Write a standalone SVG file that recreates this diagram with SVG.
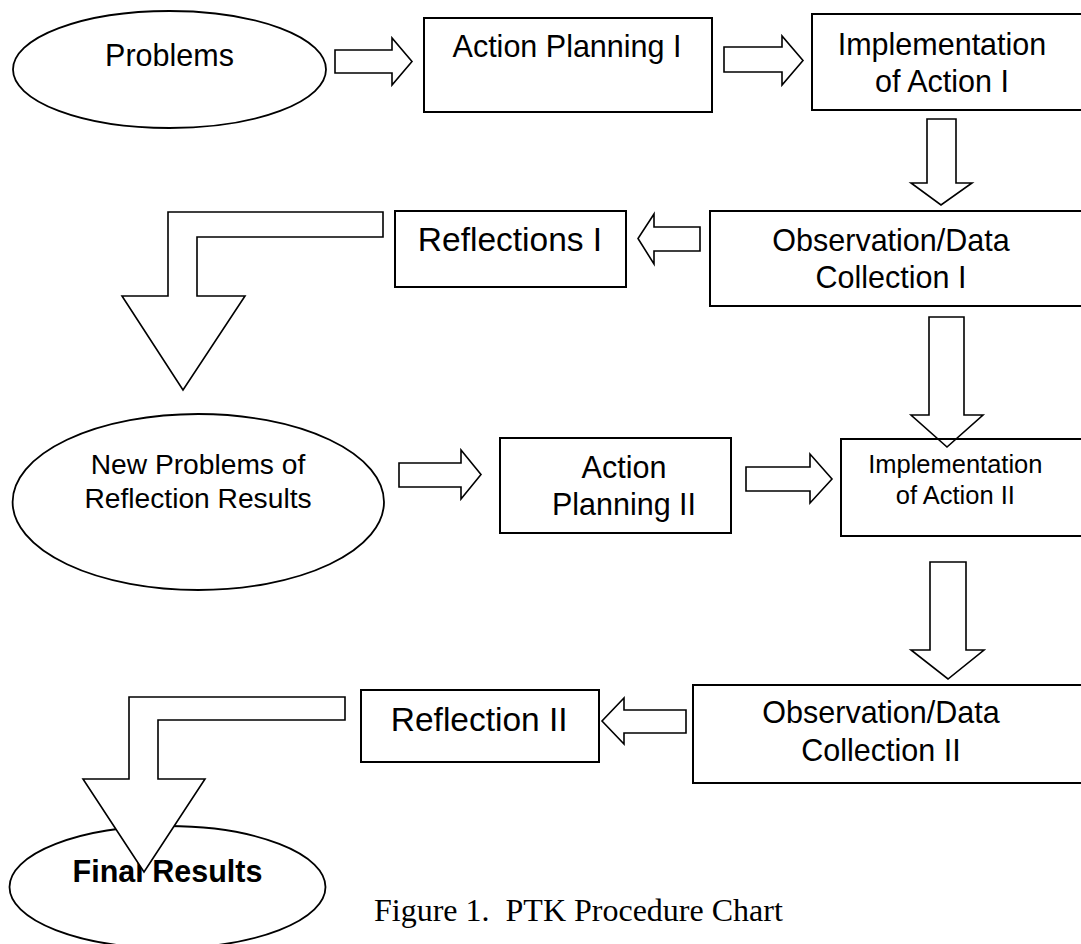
<svg xmlns="http://www.w3.org/2000/svg" width="1081" height="944" viewBox="0 0 1081 944">
<style>
.bg{fill:#ffffff}
.box{fill:none;stroke:#000;stroke-width:2}
.ell{fill:#fff;stroke:#000;stroke-width:1.8}
.arr{fill:#fff;stroke:#000;stroke-width:1.6;stroke-linejoin:miter}
.t{font-family:"Liberation Sans",Arial,sans-serif;font-size:30.5px;fill:#000;text-anchor:middle}
.cap{font-family:"Liberation Serif","Times New Roman",serif;font-size:32px;fill:#000}
</style>
<rect class="bg" x="0" y="0" width="1081" height="944"/>
<g id="node-final-results">
<ellipse class="ell" cx="167.5" cy="887" rx="158" ry="61"/>
<text class="t" x="167.5" y="881.7" font-weight="bold">Final Results</text>
</g>
<g id="connectors">
<path class="arr" d="M335,50 H392 V38 L412,61.5 L392,85 V73 H335 Z"/>
<path class="arr" d="M724,47 H782 V36 L803,60.5 L782,85 V72 H724 Z"/>
<path class="arr" d="M927,119 H956 V183 H972 L941,205 L911,183 H927 Z"/>
<path class="arr" d="M700,227 H654 V214 L638,238.5 L654,264 V251 H700 Z"/>
<path class="arr" d="M383,212 H168 V296 H122 L183,390 L245,296 H197 V237 H383 Z"/>
<path class="arr" d="M399,463 H461 V450 L481,474.5 L461,499 V487 H399 Z"/>
<path class="arr" d="M746,467 H810 V454 L832,479 L810,503 V491 H746 Z"/>
<path class="arr" d="M929,317 H964 V415 H983 L947,447 L911,415 H929 Z"/>
<path class="arr" d="M930,562 H966 V650 H984 L948,679 L911,650 H930 Z"/>
<path class="arr" d="M686,710 H624 V698 L602,721 L624,744 V733 H686 Z"/>
<path class="arr" d="M345,697 H129 V779 H83 L144,872 L205,779 H158 V720 H345 Z"/>
</g>
<g id="node-problems">
<ellipse class="ell" cx="169.5" cy="69.5" rx="156.5" ry="58.5"/>
<text class="t" x="169.5" y="66">Problems</text>
</g>
<g id="node-action-planning-1">
<rect class="box" x="424" y="18" width="288" height="94"/>
<text class="t" x="567" y="56.7">Action Planning I</text>
</g>
<g id="node-implementation-1">
<rect class="box" x="812" y="14" width="280" height="96"/>
<text class="t" x="942" y="55">Implementation</text>
<text class="t" x="942" y="91.7">of Action I</text>
</g>
<g id="node-observation-1">
<rect class="box" x="710" y="211" width="380" height="95"/>
<text class="t" x="891" y="250.7">Observation/Data</text>
<text class="t" x="891" y="288.3">Collection I</text>
</g>
<g id="node-reflections-1">
<rect class="box" x="395" y="211" width="231" height="76"/>
<text class="t" x="510" y="250.7" style="font-size:33.5px">Reflections I</text>
</g>
<g id="node-new-problems">
<ellipse class="ell" cx="198.3" cy="502" rx="185.7" ry="88"/>
<text class="t" x="198" y="474.3" style="font-size:28.2px">New Problems of</text>
<text class="t" x="198" y="508.3" style="font-size:28.2px">Reflection Results</text>
</g>
<g id="node-action-planning-2">
<rect class="box" x="500" y="438" width="231" height="95"/>
<text class="t" x="624" y="477.7">Action</text>
<text class="t" x="624" y="515">Planning II</text>
</g>
<g id="node-implementation-2">
<rect class="box" x="841" y="439" width="250" height="97"/>
<text class="t" x="955.3" y="473.3" style="font-size:25.5px">Implementation</text>
<text class="t" x="955.3" y="504" style="font-size:25.5px">of Action II</text>
</g>
<g id="node-observation-2">
<rect class="box" x="693" y="685" width="400" height="98"/>
<text class="t" x="881" y="723.3">Observation/Data</text>
<text class="t" x="881" y="760.7">Collection II</text>
</g>
<g id="node-reflection-2">
<rect class="box" x="361" y="690" width="238" height="72"/>
<text class="t" x="479.2" y="730.7" style="font-size:33.5px">Reflection II</text>
</g>
<text class="cap" x="374" y="921" xml:space="preserve">Figure 1.  PTK Procedure Chart</text>
</svg>
